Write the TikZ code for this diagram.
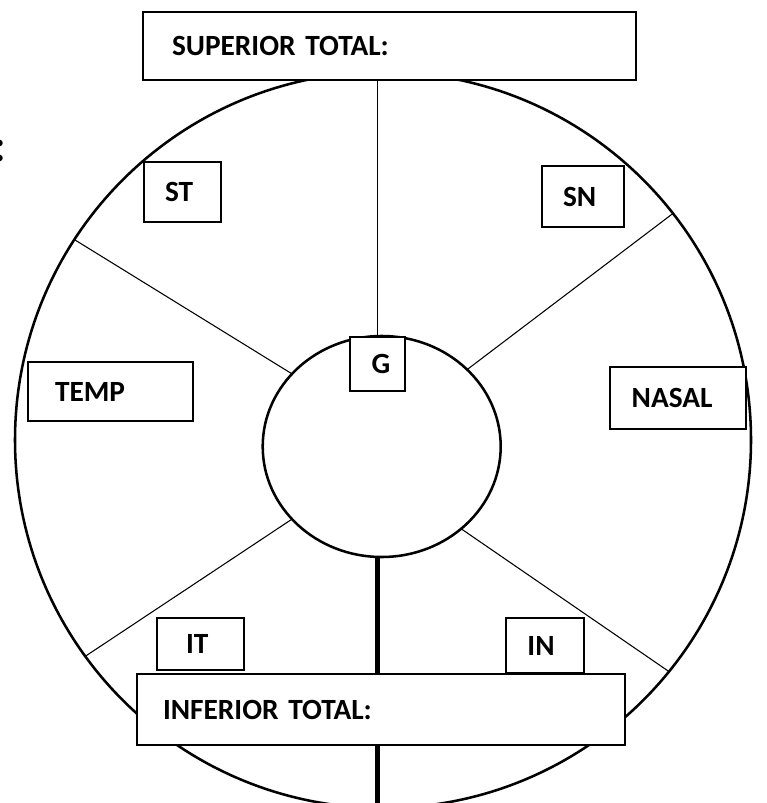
\documentclass[tikz,border=0pt]{standalone}
\usepackage{fontspec}
\setmainfont{Carlito}
\usetikzlibrary{shapes.geometric,positioning}

\begin{document}
\begin{tikzpicture}[x=0.75pt,y=-0.75pt,
  rim/.style={draw,line width=1.9pt,inner sep=0pt,outer sep=0pt},
  spoke/.style={line width=0.8pt},
  box/.style={draw,fill=white,line width=1.4pt,align=left,inner ysep=0pt,
    font=\bfseries\fontsize{22pt}{26pt}\selectfont}]
  \useasboundingbox (0,0) rectangle (767,803);
  \clip (0,0) rectangle (767,803);
  \node[anchor=base west,inner sep=0pt,font=\bfseries\fontsize{34pt}{40pt}\selectfont] (colon) at (-7,161) {:};
  \node[rim,circle,minimum size=552pt] (field) at (383,440) {};
  \node[rim,ellipse,minimum width=178.5pt,minimum height=165.75pt] (disc) at (381.7,446.5) {};
  \path[spoke]
  (disc.141) edge (field.147)
  (disc.42) edge (field.38)
  (disc.219) edge (field.216)
  (disc.314) edge (field.321)
  ;
  \node[box,text width=326.25pt,inner xsep=21.75pt,minimum height=51pt] (b_sup) at (389.5,46) {SUPERIOR TOTAL:};
  \node[box,text width=26.25pt,inner xsep=15.75pt,minimum height=45pt] (b_st) at (182.5,192) {ST};
  \node[box,text width=30pt,inner xsep=15.75pt,minimum height=45.75pt] (b_sn) at (583,196.5) {SN};
  \node[box,text width=83.25pt,inner xsep=20.25pt,minimum height=44.25pt] (b_temp) at (110.5,391.5) {TEMP};
  \node[box,text width=69.4pt,inner xsep=16.3pt,minimum height=46.5pt] (b_nasal) at (678,398) {NASAL};
  \node[box,text width=8.65pt,inner xsep=16.3pt,minimum height=40.5pt] (b_g) at (377.5,364) {G};
  % lines up and down from G
  \coordinate (cut) at (377.5,810);
  \draw[spoke] (b_g.north) -- (b_g.north |- b_sup.south);
  \draw[line width=3.2pt] (b_g.south |- disc.south) -- (b_g.south |- cut);
  \node[box,text width=21.75pt,inner xsep=21.75pt,minimum height=39pt] (b_it) at (200.5,644) {IT};
  \node[box,text width=26.3pt,inner xsep=16.1pt,minimum height=41.25pt] (b_in) at (545,645.5) {IN};
  \node[box,text width=327pt,inner xsep=19.5pt,minimum height=53.25pt] (b_inf) at (381,709.5) {INFERIOR TOTAL:};
\end{tikzpicture}
\end{document}
